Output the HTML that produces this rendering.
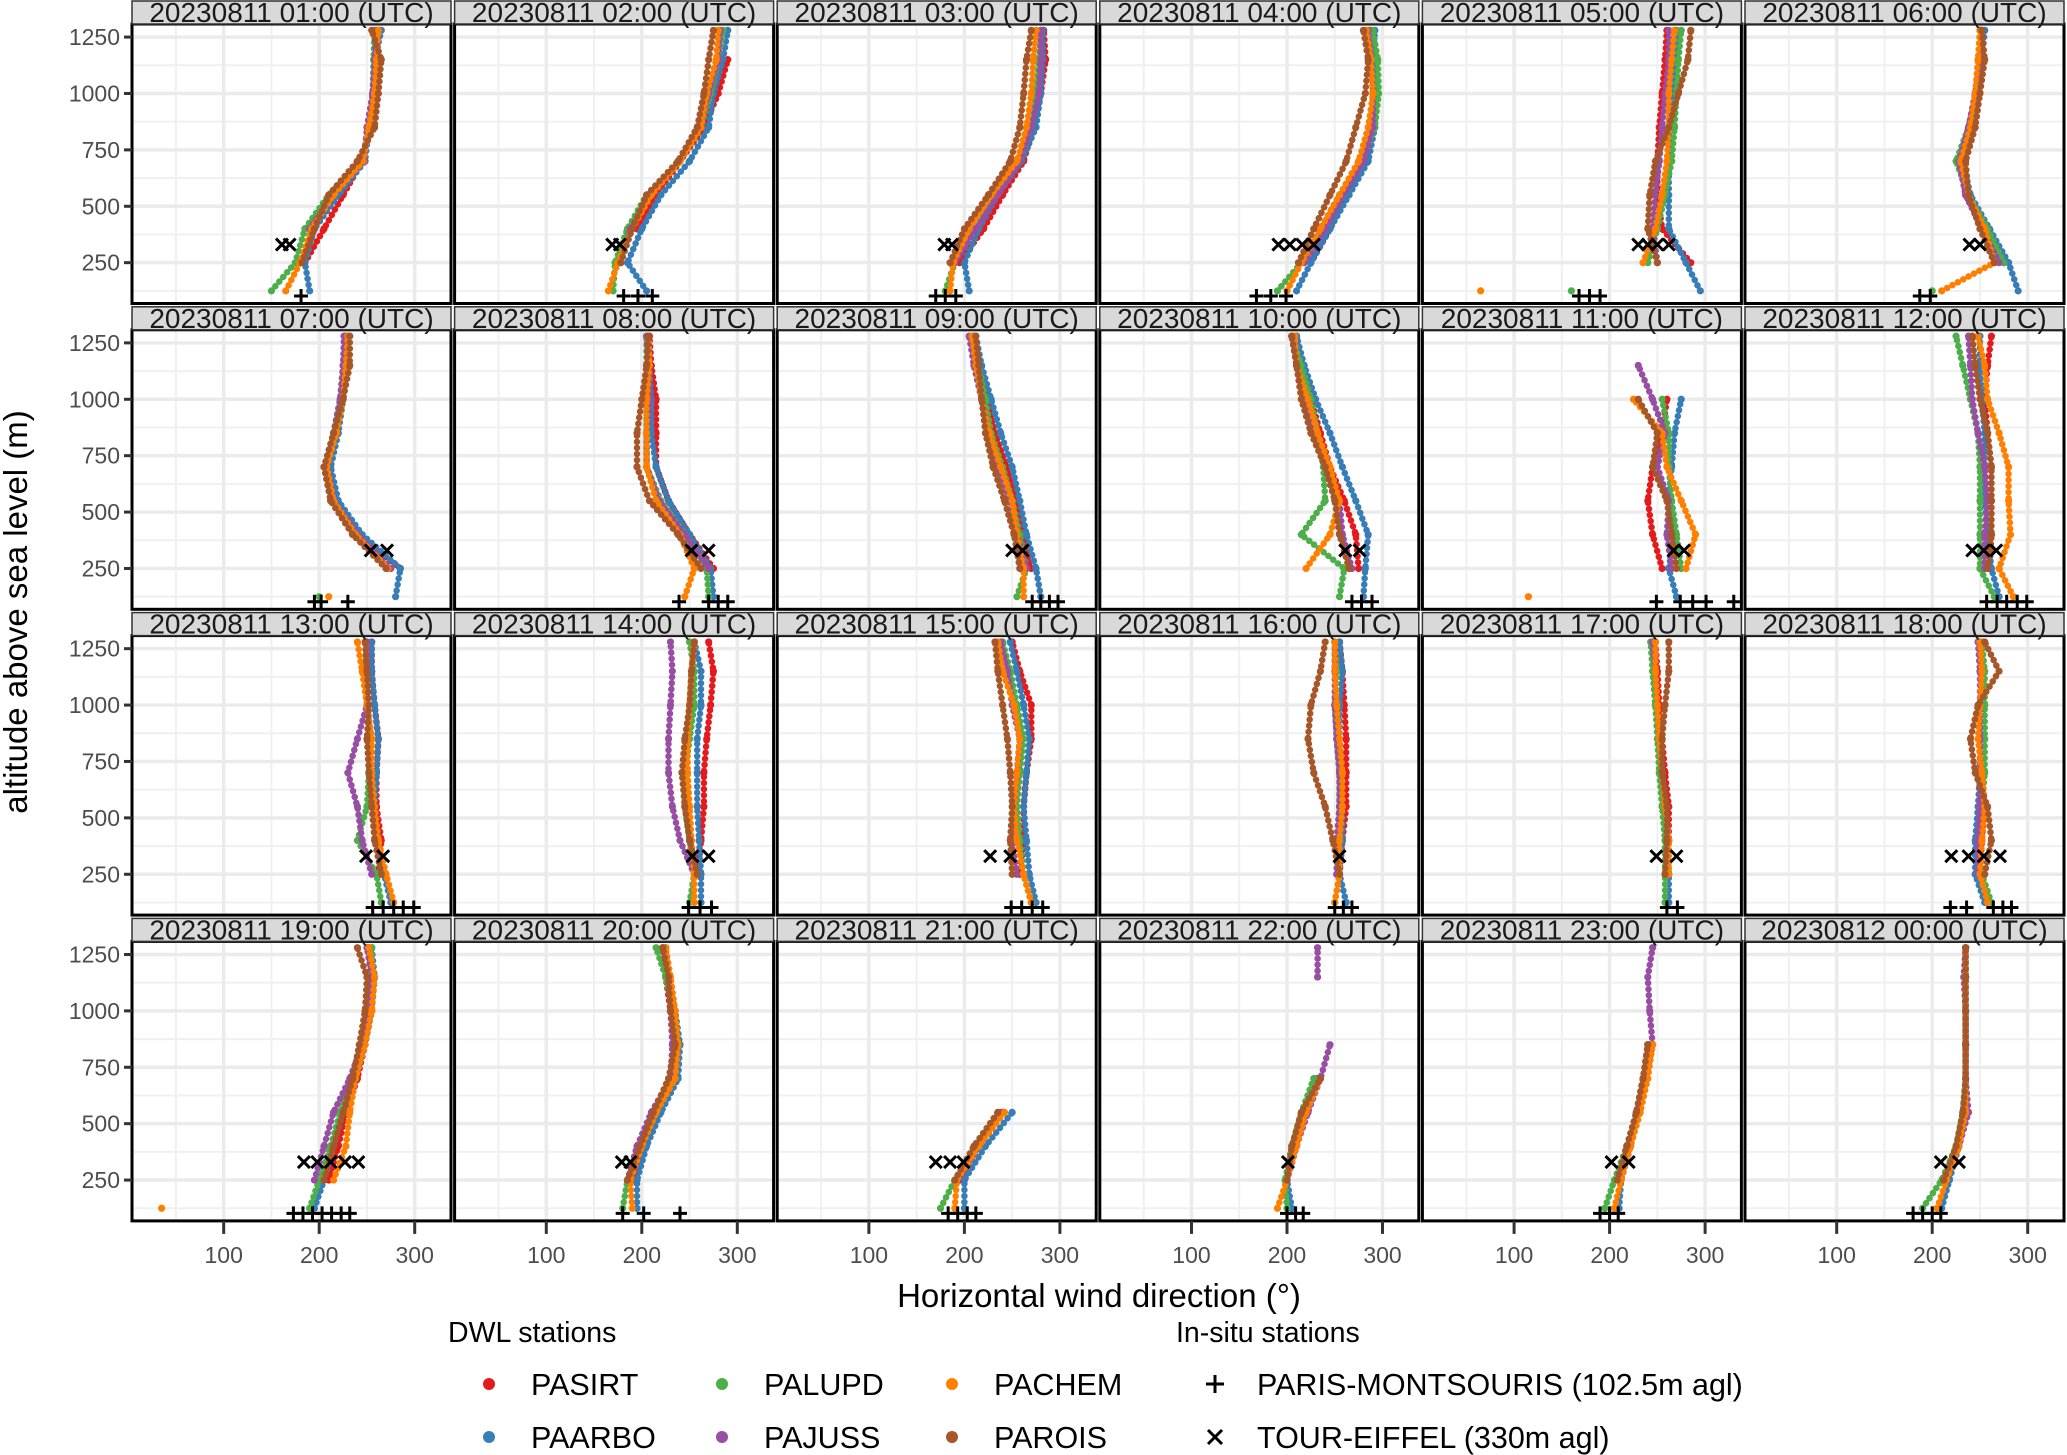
<!DOCTYPE html>
<html><head><meta charset="utf-8">
<style>
html,body{margin:0;padding:0;background:#fff;}
svg{display:block;font-family:"Liberation Sans",Arial,sans-serif;}
</style></head>
<body>
<svg id="chart" width="2067" height="1455" viewBox="0 0 2067 1455" xmlns="http://www.w3.org/2000/svg"></svg>
<script>
const levels = [125, 250, 400, 550, 700, 850, 1000, 1150, 1280];
const panelTitles = ["20230811 01:00 (UTC)","20230811 02:00 (UTC)","20230811 03:00 (UTC)","20230811 04:00 (UTC)","20230811 05:00 (UTC)","20230811 06:00 (UTC)","20230811 07:00 (UTC)","20230811 08:00 (UTC)","20230811 09:00 (UTC)","20230811 10:00 (UTC)","20230811 11:00 (UTC)","20230811 12:00 (UTC)","20230811 13:00 (UTC)","20230811 14:00 (UTC)","20230811 15:00 (UTC)","20230811 16:00 (UTC)","20230811 17:00 (UTC)","20230811 18:00 (UTC)","20230811 19:00 (UTC)","20230811 20:00 (UTC)","20230811 21:00 (UTC)","20230811 22:00 (UTC)","20230811 23:00 (UTC)","20230812 00:00 (UTC)"];
const stationNames = ["PASIRT","PAARBO","PALUPD","PAJUSS","PACHEM","PAROIS"];
const stationColors = ["#E41A1C","#377EB8","#4DAF4A","#984EA3","#FF7F00","#A65628"];
const xTicks = [100, 200, 300];
const yTicks = [250, 500, 750, 1000, 1250];
const N = null;
const pasirt = [
[N,185,205,225,245,252,258,260,263],[N,N,195,215,240,265,280,290,N],[N,195,220,240,262,272,280,285,283],[N,225,245,262,280,290,290,290,288],[N,285,255,250,250,252,255,258,260],[N,275,255,235,230,240,245,250,250],
[N,285,240,215,210,218,225,228,230],[N,275,250,228,215,215,215,210,208],[N,270,262,255,245,232,225,215,210],[N,275,272,260,245,235,225,215,210],[N,255,245,240,245,255,260,N,N],[N,260,262,262,262,258,255,258,262],
[N,262,265,260,260,262,258,255,255],[N,258,262,265,265,268,272,275,270],[N,258,262,262,265,270,270,258,250],[N,255,258,262,262,262,260,258,255],[N,260,262,262,258,255,252,250,248],[N,250,252,255,252,250,250,252,250],
[N,210,220,228,240,248,255,255,252],[N,190,200,215,235,235,230,225,222],[N,195,215,240,N,N,N,N,N],[N,200,210,220,232,N,N,N,N],[N,210,220,228,235,240,N,N,N],[N,215,228,235,235,235,235,235,235]];
const paarbo = [
[190,185,195,220,248,252,256,258,265],[205,185,200,220,250,270,275,285,290],[205,200,215,235,260,275,280,282,282],[210,225,245,265,285,292,292,290,292],[295,280,262,262,262,262,265,268,270],[290,280,260,240,232,242,248,252,255],
[280,285,245,220,212,220,225,228,228],[275,272,250,228,215,210,210,208,207],[280,275,265,258,250,238,228,218,212],[280,282,285,272,258,245,230,218,210],[270,262,268,262,265,268,275,N,N],[270,262,258,255,255,255,252,250,250],
[275,268,262,258,260,262,258,255,255],[262,262,260,258,258,258,262,262,255],[275,268,265,262,265,268,262,255,248],[262,255,258,258,258,255,255,258,255],[262,262,260,258,255,252,248,245,245],[255,245,245,248,250,250,250,252,252],
[195,205,215,225,238,248,255,258,255],[195,195,205,220,238,240,235,228,225],[200,200,222,250,N,N,N,N,N],[205,200,208,218,230,N,N,N,N],[210,212,222,230,238,242,N,N,N],[210,218,228,235,235,235,235,235,235]];
const palupd = [
[150,175,185,210,245,252,256,257,258],[170,172,185,205,240,262,272,280,285],[180,190,210,232,258,270,275,278,280],[190,215,235,255,278,292,296,295,290],[160,240,250,258,265,268,270,272,275],[200,275,258,238,225,238,246,250,252],
[200,270,238,212,205,215,222,225,227],[270,268,245,220,205,205,205,205,205],[255,265,258,250,240,228,222,215,210],[255,260,215,240,238,232,225,215,205],[N,275,270,265,262,262,255,N,N],[265,250,250,250,250,248,240,232,225],
[265,260,240,250,252,255,250,248,250],[250,255,250,245,245,250,255,255,250],[270,262,258,255,258,262,255,248,240],[250,255,255,255,255,252,250,252,250],[258,258,258,255,252,250,248,245,243],[262,252,248,252,255,255,255,255,252],
[190,200,212,222,235,245,252,255,255],[180,185,198,212,232,235,232,225,215],[175,190,212,240,N,N,N,N,N],[200,198,205,215,228,N,N,N,N],[195,205,218,228,235,240,N,N,N],[190,210,225,232,235,235,235,235,235]];
const pajuss = [
[N,N,190,215,247,250,256,258,260],[N,178,188,210,240,262,270,280,282],[N,190,212,235,258,270,278,280,280],[N,218,240,258,280,290,290,288,285],[N,250,245,248,252,255,258,262,262],[N,270,252,235,228,238,245,250,252],
[N,275,240,215,208,215,222,225,226],[N,270,245,218,205,205,208,207,205],[N,265,255,248,235,225,218,210,205],[N,268,258,255,240,228,218,210,205],[N,265,260,262,250,258,245,230,N],[N,255,255,258,255,248,242,240,238],
[N,255,245,240,230,240,250,250,250],[N,255,240,232,228,228,230,232,230],[N,255,250,252,255,258,250,245,238],[N,252,252,255,255,252,250,250,250],[N,260,262,258,255,252,250,248,245],[N,248,248,250,250,250,250,250,248],
[N,195,205,215,232,245,252,255,250],[N,185,195,210,230,232,230,228,225],[N,192,215,238,N,N,N,N,N],[N,200,210,222,235,245,N,232,232],[N,210,220,228,238,245,242,240,245],[N,212,228,238,235,235,235,233,235]];
const pachem = [
[165,180,192,215,246,252,258,260,262],[165,175,190,210,240,262,268,278,280],[185,188,205,228,255,265,270,272,275],[200,215,235,255,275,285,290,288,283],[65,235,248,255,260,262,262,265,268],[210,265,255,238,230,240,245,248,250],
[210,272,238,215,208,218,225,228,230],[245,255,240,215,205,205,205,208,207],[262,262,255,250,238,226,218,212,208],[N,220,245,255,245,232,222,210,208],[115,280,290,275,260,255,225,N,N],[285,270,282,280,280,270,258,255,248],
[278,270,262,258,255,255,250,245,240],[255,255,252,250,248,248,250,252,255],[270,262,255,252,255,258,252,240,235],[250,255,255,258,258,255,252,250,250],[N,262,262,258,255,252,250,248,248],[258,250,252,255,252,248,250,252,250],
[35,215,228,232,238,248,255,258,252],[190,188,200,215,235,238,235,230,225],[190,192,215,242,N,N,N,N,N],[190,200,210,220,235,N,N,N,N],[205,212,222,232,240,245,N,N,N],[205,215,228,235,235,235,235,235,235]];
const parois = [
[N,182,195,210,240,258,262,265,255],[N,178,190,205,238,258,265,270,275],[N,185,200,225,248,258,262,265,270],[N,212,228,245,262,272,282,285,280],[N,250,240,242,248,262,272,282,285],[N,265,250,238,235,245,250,255,252],
[N,270,235,212,205,215,225,232,232],[N,262,238,208,195,195,200,205,207],[N,258,252,242,230,222,218,215,212],[N,265,255,250,240,225,215,210,205],[N,270,265,260,245,250,230,N,N],[N,258,262,262,262,258,250,245,242],
[N,265,258,255,252,250,252,250,248],[N,258,250,245,242,245,250,252,255],[N,250,248,250,248,245,240,235,232],[N,255,248,240,228,222,225,235,240],[N,258,260,260,255,255,258,262,262],[N,255,262,258,245,240,248,270,255],
[N,205,215,225,235,242,248,250,240],[N,185,198,212,228,235,230,228,222],[N,190,210,235,N,N,N,N,N],[N,200,205,215,235,N,N,N,N],[N,208,218,228,235,240,N,N,N],[N,212,225,232,235,235,235,235,235]];
const montsourisDir = [[181],[181,196,211],[170,180,191],[168,183,199],[168,179,190],[187,198],[195,202,230],[239,270,280,290],[271,280,289,298],[268,278,289],[249,274,287,301,330],[257,268,278,289,299],[256,267,278,288,299],[249,261,273],[249,260,271,282],[250,259,268],[260,271],[219,236,264,274,283],[173,183,193,203,213,223,232],[180,202,240],[183,193,203,212],[200,209,217],[190,200,209],[180,190,200,209]];
const eiffelDir = [[161,169],[169,177],[179,187],[191,203,216,228],[230,240,250,262],[239,250],[254,271],[252,270],[250,261],[261,276],[267,278],[242,254,267],[249,267],[253,270],[227,248],[255],[249,270],[220,238,254,271],[184,198,212,227,241],[179,188],[170,185,199],[201],[202,220],[209,228]];
const montsourisAlt = 102.5;
const eiffelAlt = 330;

const series = [pasirt, paarbo, palupd, pajuss, pachem, parois];
const NS = "http://www.w3.org/2000/svg";
const svg = document.getElementById('chart');
function mk(tag, attrs, parent){const e=document.createElementNS(NS,tag);for(const k in attrs)e.setAttribute(k,attrs[k]);(parent||svg).appendChild(e);return e;}

const X0=132, XSTEP=322.6, PW=319, ROWSTEP=305.8, STRIPH=24, PB=303.5;
const XMIN=4, XMAX=338, YMIN=69, YMAX=1308;
function xs(c,v){return X0+c*XSTEP+(v-XMIN)/(XMAX-XMIN)*PW;}
function ys(r,v){const bot=r*ROWSTEP+PB;return bot-(v-YMIN)/(YMAX-YMIN)*(PB-STRIPH);}

for(let p=0;p<24;p++){
  const c=p%6, r=Math.floor(p/6);
  const left=X0+c*XSTEP, top=r*ROWSTEP, ptop=top+STRIPH, pbot=top+PB;
  const g=mk('g',{});
  
  
  mk('rect',{x:left,y:ptop,width:PW,height:pbot-ptop,fill:'#fff'},g);
  [50,150,250].forEach(v=>mk('line',{x1:xs(c,v),x2:xs(c,v),y1:ptop,y2:pbot,stroke:'#f0f0f0','stroke-width':2},g));
  [125,375,625,875,1125].forEach(v=>mk('line',{x1:left,x2:left+PW,y1:ys(r,v),y2:ys(r,v),stroke:'#f0f0f0','stroke-width':2},g));
  xTicks.forEach(v=>mk('line',{x1:xs(c,v),x2:xs(c,v),y1:ptop,y2:pbot,stroke:'#ebebeb','stroke-width':3.5},g));
  yTicks.forEach(v=>mk('line',{x1:left,x2:left+PW,y1:ys(r,v),y2:ys(r,v),stroke:'#ebebeb','stroke-width':3.5},g));
  for(let s=0;s<6;s++){
    const vals=series[s][p];
    let seg=[], prev=null;
    const flush=()=>{if(seg.length>1){const pl=mk('polyline',{points:seg.join(' '),fill:'none',stroke:stationColors[s],'stroke-width':6.5,'stroke-linejoin':'round','stroke-dasharray':'0.1 6','stroke-linecap':'round'},g);}seg=[];};
    for(let i=0;i<levels.length;i++){
      const v=vals[i];
      if(v===null||v===undefined){flush();prev=null;continue;}
      if(prev!==null && Math.abs(v-prev)>60) flush();
      prev=v;
      seg.push(xs(c,v).toFixed(1)+','+ys(r,levels[i]).toFixed(1));
      const d=mk('circle',{cx:xs(c,v),cy:ys(r,levels[i]),r:3.6,fill:stationColors[s]},g);
      
      
    }
    flush();
  }
  montsourisDir[p].forEach(v=>{
    const x=xs(c,v), y=ys(r,montsourisAlt);
    const m=mk('path',{d:`M${x-7},${y}H${x+7}M${x},${y-7}V${y+7}`,stroke:'#000','stroke-width':3},g);
    
    
  });
  eiffelDir[p].forEach(v=>{
    const x=xs(c,v), y=ys(r,eiffelAlt);
    const m=mk('path',{d:`M${x-6},${y-6}L${x+6},${y+6}M${x-6},${y+6}L${x+6},${y-6}`,stroke:'#000','stroke-width':3},g);
    
    
  });
  mk('rect',{x:left,y:ptop,width:PW,height:pbot-ptop,fill:'none',stroke:'#000','stroke-width':3},g);
  mk('rect',{x:left,y:top+1,width:PW,height:STRIPH-1,fill:'#d9d9d9',stroke:'#333','stroke-width':1.5},g);
  const st=mk('text',{x:left+PW/2,y:top+STRIPH-2,'text-anchor':'middle','font-size':28,fill:'#1a1a1a'},g);
  st.textContent=panelTitles[p];
  
  
  if(c===0){
    yTicks.forEach(v=>{
      mk('line',{x1:left-8,x2:left,y1:ys(r,v),y2:ys(r,v),stroke:'#333','stroke-width':3},g);
      const t=mk('text',{x:left-12,y:ys(r,v)+8,'text-anchor':'end','font-size':23,fill:'#4d4d4d'},g);
      t.textContent=v;
      
      
    });
  }
  if(r===3){
    xTicks.forEach(v=>{
      mk('line',{x1:xs(c,v),x2:xs(c,v),y1:pbot,y2:pbot+13,stroke:'#333','stroke-width':3},g);
      const t=mk('text',{x:xs(c,v),y:pbot+42,'text-anchor':'middle','font-size':23,fill:'#4d4d4d'},g);
      t.textContent=v;
      
      
    });
  }
}
let t=mk('text',{x:1099,y:1307,'text-anchor':'middle','font-size':33,fill:'#000'});
t.textContent='Horizontal wind direction (°)';


t=mk('text',{x:0,y:0,'text-anchor':'middle','font-size':33,fill:'#000',transform:'translate(27,612) rotate(-90)'});
t.textContent='altitude above sea level (m)';


t=mk('text',{x:448,y:1342,'font-size':28.5,fill:'#000'});t.textContent='DWL stations';


t=mk('text',{x:1176,y:1342,'font-size':28.5,fill:'#000'});t.textContent='In-situ stations';


const legCols=[489,722,952];
for(let s=0;s<6;s++){
  const col=Math.floor(s/2), row=s%2;
  const cx=legCols[col], cy=row?1437:1384;
  const g=mk('g',{});
  
  
  mk('circle',{cx:cx,cy:cy,r:6,fill:stationColors[s]},g);
  const tx=mk('text',{x:cx+42,y:cy+11,'font-size':30.5,fill:'#000'},g);
  tx.textContent=stationNames[s];
}
let g=mk('g',{});


mk('path',{d:'M1206,1384H1224M1215,1375V1393',stroke:'#000','stroke-width':3},g);
t=mk('text',{x:1257,y:1395,'font-size':30.5,fill:'#000'},g);t.textContent='PARIS-MONTSOURIS (102.5m agl)';
g=mk('g',{});


mk('path',{d:'M1208,1430L1222,1444M1208,1444L1222,1430',stroke:'#000','stroke-width':3},g);
t=mk('text',{x:1257,y:1448,'font-size':30.5,fill:'#000'},g);t.textContent='TOUR-EIFFEL (330m agl)';
</script>
</body></html>
